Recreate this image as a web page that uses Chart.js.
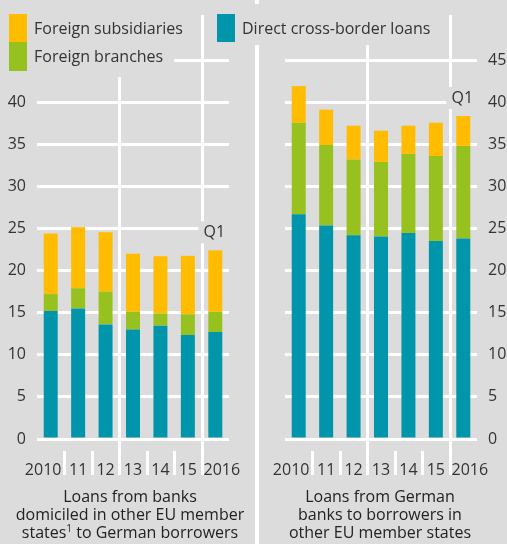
<!DOCTYPE html>
<html>
<head>
<meta charset="utf-8">
<script src="https://cdn.jsdelivr.net/npm/chart.js@4/dist/chart.umd.min.js"></script>
<style>
  body { margin: 0; background: #dcdcdc; font-family: 'Open Sans', sans-serif; color: #333; }
  #wrap { position: relative; width: 507px; height: 544px; overflow: hidden; background: #dcdcdc; }
  canvas { position: absolute; top: 0; }
  #sep { position: absolute; left: 255px; top: 0; width: 4px; height: 544px; background: #fff; }
  .box { position: absolute; background: #dcdcdc; }
  .sw { position: absolute; width: 18px; }
  .lt { position: absolute; font-size: 16px; line-height: 20px; white-space: nowrap; color: #333; }
  .title { position: absolute; top: 488px; width: 250px; text-align: center; font-size: 16px; line-height: 17.8px; color: #222; }
  .title sup { font-size: 10px; vertical-align: 6px; line-height: 0; }
</style>
</head>
<body>
<div id="wrap">
  <canvas id="left" width="255" height="544" style="left:0"></canvas>
  <div id="sep"></div>
  <canvas id="right" width="248" height="544" style="left:259px"></canvas>

  <!-- legend, drawn with grey boxes that hide the grid beneath -->
  <div class="box" style="left:0;top:0;width:192px;height:42px"></div>
  <div class="box" style="left:0;top:42px;width:174px;height:35px"></div>
  <div class="box" style="left:205px;top:4px;width:235px;height:41px"></div>
  <div class="sw" style="left:9px;top:14px;height:28px;background:#ffbc00"></div>
  <div class="sw" style="left:9px;top:42px;height:29px;background:#96c11f"></div>
  <div class="sw" style="left:217px;top:14px;height:28px;background:#0095aa"></div>
  <div class="lt" style="left:34px;top:18px">Foreign subsidiaries</div>
  <div class="lt" style="left:34px;top:46px">Foreign branches</div>
  <div class="lt" style="left:242px;top:18px">Direct cross-border loans</div>

  <div class="title" style="left:5px">Loans from banks<br>domiciled in other EU member<br>states<sup>1</sup> to German borrowers</div>
  <div class="title" style="left:255px">Loans from German<br>banks to borrowers in<br>other EU member states</div>
</div>

<script>
// € billion
const years = ['2010', '11', '12', '13', '14', '15', '2016'];
const yTicks = [0, 5, 10, 15, 20, 25, 30, 35, 40, 45];

// loans from banks in other EU states to German borrowers
const inDirect   = [15.2, 15.5, 13.6, 13.0, 13.45, 12.35, 12.7];
const inBranches = [2.0, 2.4, 3.9, 2.1, 1.45, 2.45, 2.4];
const inSubs     = [7.2, 7.25, 7.05, 6.9, 6.8, 6.95, 7.3];

// loans from German banks to borrowers in other EU states
const outDirect   = [26.7, 25.35, 24.2, 24.05, 24.45, 23.5, 23.8];
const outBranches = [10.85, 9.55, 9.0, 8.85, 9.4, 10.1, 11.0];
const outSubs     = [4.35, 4.2, 4.0, 3.7, 3.35, 3.95, 3.55];

const lastLabel = 'Q1';

const TEAL = '#0095aa', GREEN = '#96c11f', ORANGE = '#ffbc00';
const BG = '#dcdcdc', TXT = '#333';
const FONT = "'Open Sans', sans-serif";

// white separators between years, year labels and the Q1 note
const panelLines = {
  id: 'panelLines',
  beforeDatasetsDraw(chart) {
    const { ctx, chartArea: { bottom }, scales: { x } } = chart;
    ctx.save();
    ctx.strokeStyle = '#fff';
    ctx.lineWidth = 3;
    for (let i = 1; i < years.length; i++) {
      const px = Math.round((x.getPixelForValue(i - 1) + x.getPixelForValue(i)) / 2) + 0.5;
      const long = i === 3 || i === 6;
      ctx.beginPath();
      ctx.moveTo(px, long ? 15 : bottom + 12);
      ctx.lineTo(px, bottom + 36);
      ctx.stroke();
    }
    ctx.restore();
  },
  afterDatasetsDraw(chart) {
    const { ctx, chartArea: { bottom }, scales: { x } } = chart;
    ctx.save();
    ctx.font = '16px ' + FONT;
    ctx.fillStyle = TXT;
    ctx.textBaseline = 'middle';
    years.forEach((lab, i) => {
      let px = x.getPixelForValue(i);
      const half = (x.getPixelForValue(1) - x.getPixelForValue(0)) / 2;
      if (i === 0) { ctx.textAlign = 'right'; px = px + half - 3; }
      else if (i === years.length - 1) { ctx.textAlign = 'left'; px = px - half + 2; }
      else ctx.textAlign = 'center';
      ctx.fillText(lab, px, bottom + 31);
    });

    const bar = chart.getDatasetMeta(2).data[years.length - 1];
    const cx = bar.x - 1, cy = bar.y - 18;
    ctx.fillStyle = BG;
    ctx.fillRect(cx - 16, cy - 11, 33, 22);
    ctx.fillStyle = TXT;
    ctx.textAlign = 'center';
    ctx.font = '16px ' + FONT;
    ctx.fillText(lastLabel, cx, cy);
    ctx.restore();
  }
};

function makeChart(id, direct, branches, subs, side) {
  return new Chart(document.getElementById(id), {
    type: 'bar',
    data: {
      labels: years,
      datasets: [
        { label: 'Direct cross-border loans', data: direct, backgroundColor: TEAL },
        { label: 'Foreign branches', data: branches, backgroundColor: GREEN },
        { label: 'Foreign subsidiaries', data: subs, backgroundColor: ORANGE }
      ]
    },
    options: {
      responsive: false,
      animation: false,
      layout: { padding: side === 'left' ? { top: 60, right: 26, left: 0, bottom: 0 } : { top: 60, left: 26, right: 0, bottom: 0 } },
      datasets: { bar: { barPercentage: 0.51, categoryPercentage: 1 } },
      plugins: { legend: { display: false }, tooltip: { enabled: false } },
      scales: {
        x: {
          stacked: true,
          grid: { display: false },
          border: { display: false },
          ticks: { display: false },
          afterFit: s => { s.height = 105; }
        },
        y: {
          stacked: true,
          position: side,
          min: 0, max: 45,
          afterBuildTicks: s => { s.ticks = yTicks.map(v => ({ value: v })); },
          grid: { color: '#fff', lineWidth: 3, drawTicks: false },
          border: { display: false },
          ticks: {
            padding: 11,
            color: TXT,
            font: { family: FONT, size: 16 },
            callback: v => (side === 'left' && v === 45) ? '' : v
          },
          afterFit: s => { s.width = side === 'left' ? 37 : 30; }
        }
      }
    },
    plugins: [panelLines]
  });
}

makeChart('left', inDirect, inBranches, inSubs, 'left');
makeChart('right', outDirect, outBranches, outSubs, 'right');
</script>
</body>
</html>
